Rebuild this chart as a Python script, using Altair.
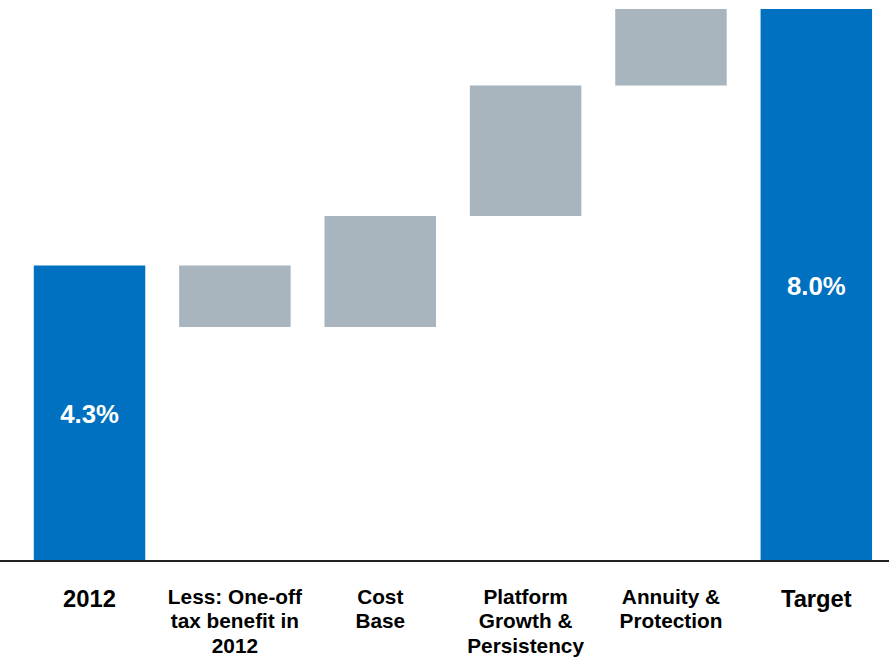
import altair as alt
import pandas as pd

categories = ["2012", "Less: One-off\ntax benefit in\n2012", "Cost\nBase",
              "Platform\nGrowth &\nPersistency", "Annuity &\nProtection", "Target"]
bar_start = [0.0, 3.39, 3.39, 5.0, 6.89, 0.0]
bar_end = [4.28, 4.28, 5.0, 6.89, 8.0, 8.0]
kinds = ["total", "step", "step", "step", "step", "total"]
value_labels = ["4.3%", "", "", "", "", "8.0%"]

df = pd.DataFrame({
    "cat": categories,
    "start": bar_start,
    "end": bar_end,
    "kind": kinds,
    "label": value_labels,
})
df["mid"] = (df["start"] + df["end"]) / 2
df["multi"] = df["cat"].str.contains("\n")

x = alt.X("cat:N", sort=categories, axis=None,
          scale=alt.Scale(paddingInner=0.233, paddingOuter=0.1165))
yscale = alt.Scale(domain=[0, 8.0], nice=False, zero=True)

bars = alt.Chart(df).mark_bar().encode(
    x=x,
    y=alt.Y("start:Q", scale=yscale, axis=None),
    y2="end:Q",
    color=alt.Color("kind:N", scale=alt.Scale(domain=["total", "step"],
                                              range=["#0070C0", "#A8B5BE"]),
                    legend=None),
)

vals = alt.Chart(df).transform_filter("datum.label != ''").mark_text(
    font="Liberation Sans", fontWeight="bold", fontSize=26, color="white",
    baseline="middle", align="center", dy=2
).encode(x=x, y=alt.Y("mid:Q", scale=yscale, axis=None), text="label:N")

cats_multi = alt.Chart(df).transform_filter("datum.multi").mark_text(
    font="Liberation Sans", fontWeight="bold", fontSize=21, color="black",
    baseline="top", align="center", lineBreak="\n", lineHeight=25
).encode(x=x, y=alt.value(583), text="cat:N")

cats_single = alt.Chart(df).transform_filter("!datum.multi").mark_text(
    font="Liberation Sans", fontWeight="bold", fontSize=24, color="black",
    baseline="top", align="center"
).encode(x=x, y=alt.value(584), text="cat:N")

axis_line = alt.Chart(df).mark_rule(color="#222222", strokeWidth=2).encode(
    x=alt.value(-17), x2=alt.value(880), y=alt.value(557)
)

chart = alt.layer(bars, vals, cats_multi, cats_single, axis_line).properties(
    width=880, height=557,
    padding={"left": 17, "top": 6, "right": 0, "bottom": 97},
    autosize=alt.AutoSizeParams(type="none"),
    background="white",
).configure_view(stroke="transparent", strokeWidth=0)

chart.save("out.html", embed_options={"renderer": "svg", "actions": False})
